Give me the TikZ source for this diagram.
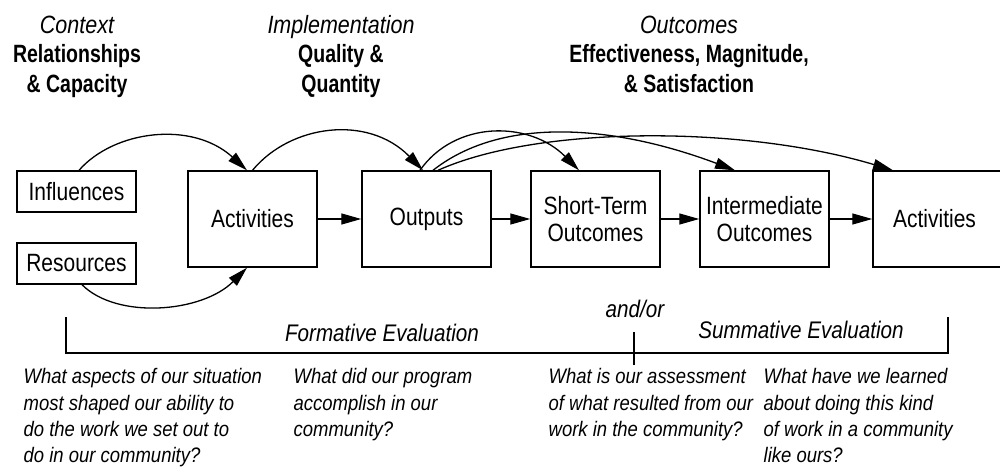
\documentclass[tikz,border=0pt]{standalone}
\usepackage{fontspec}
\setmainfont{Liberation Sans}[FakeStretch=0.84]
\newfontfamily\boldf{Liberation Sans}[FakeStretch=0.78]
\newfontfamily\itf{Liberation Sans}[FakeStretch=0.86]
\newfontfamily\qf{Liberation Sans}[FakeStretch=0.88]
\usetikzlibrary{arrows.meta}
\begin{document}
\begin{tikzpicture}[x=1pt,y=-1pt,
  line width=1.3pt,
  box/.style={draw, line width=1.4pt, minimum width=129pt, minimum height=96pt, inner sep=0pt, align=center, font=\fontsize{25}{27}\selectfont},
  smallbox/.style={draw, line width=1.4pt, minimum width=119pt, minimum height=41pt, inner sep=0pt, font=\fontsize{25}{27}\selectfont},
  arr/.style={-{Triangle[length=20pt,width=11pt]}, line width=1.3pt},
  head/.style={align=center, inner sep=0pt, anchor=base, font=\boldf\bfseries\fontsize{25}{29.5}\selectfont},
  evl/.style={inner sep=0pt, font=\itf\itshape\fontsize{24}{26}\selectfont},
  quest/.style={anchor=north west, align=left, inner sep=0pt, font=\qf\itshape\fontsize{21}{26.3}\selectfont}
]
\useasboundingbox (0,0) rectangle (1000,466);

% headings
\node[head] (h1) at (77,92) {{\itf\itshape\mdseries Context}\\Relationships\\\& Capacity};
\node[head] (h2) at (341,92) {{\itf\itshape\mdseries Implementation}\\Quality \&\\Quantity};
\node[head] (h3) at (689,92) {{\itf\itshape\mdseries Outcomes}\\Effectiveness, Magnitude,\\\& Satisfaction};

% boxes
\node[smallbox] (infl) at (76.5,191.5) {Influences};
\node[smallbox] (res) at (76.5,263.5) {Resources};
\node[box] (act) at (252.5,219) {Activities};
\node[box] (out) at (426.5,219) {Outputs};
\node[box] (st) at (595.5,219) {Short-Term\\Outcomes};
\node[box] (im) at (764.5,219) {Intermediate\\Outcomes};
\node[box] (act2) at (937.5,219) {\hspace*{-6pt}Activities};

% straight arrows
\draw[arr] (act) -- (out);
\draw[arr] (out) -- (st);
\draw[arr] (st) -- (im);
\draw[arr] (im) -- (act2);

% curved arrows
\draw[arr] ([xshift=2.5pt]infl.north) .. controls +(35,-40) and +(-55,-50) .. ([xshift=-5.5pt]act.north);
\draw[arr] (act.north) .. controls +(38,-46) and +(-55,-56) .. ([xshift=-3.5pt]out.north);
\draw[arr] ([xshift=-6.5pt]out.north) .. controls +(35,-50) and +(-50,-50) .. ([xshift=-16.5pt]st.north);
\draw[arr] ([xshift=6.5pt]out.north) .. controls +(70,-55) and +(-120,-45) .. ([xshift=-29.5pt]im.north);
\draw[arr] ([xshift=11.5pt]out.north) .. controls +(100,-45) and +(-150,-45) .. ([xshift=-44.5pt]act2.north);
\draw[arr] ([xshift=5.5pt]res.south) .. controls +(35,35) and +(-45,45) .. ([xshift=-5.5pt]act.south);

% evaluation bracket
\coordinate (bl) at (66,317);
\coordinate (br) at (948,317);
\coordinate (tt) at (634,332);
\coordinate (tb) at (634,365);
\draw[line width=1.1pt] (bl) -- (bl |- 0,353) -- (br |- 0,353) -- (br);
\draw[line width=1.1pt] (tt) -- (tb);
\node[evl] (form) at (382,333) {Formative Evaluation};
\node[evl] (andor) at (635,309) {and/or};
\node[evl] (summ) at (801,330) {Summative Evaluation};

% questions
\node[quest] (q1) at (23,368) {What aspects of our situation\\most shaped our ability to\\do the work we set out to\\do in our community?};
\node[quest] (q2) at (293,368) {What did our program\\accomplish in our\\community?};
\node[quest] (q3) at (548,368) {What is our assessment\\of what resulted from our\\work in the community?};
\node[quest] (q4) at (763,368) {What have we learned\\about doing this kind\\of work in a community\\like ours?};
\end{tikzpicture}
\end{document}
